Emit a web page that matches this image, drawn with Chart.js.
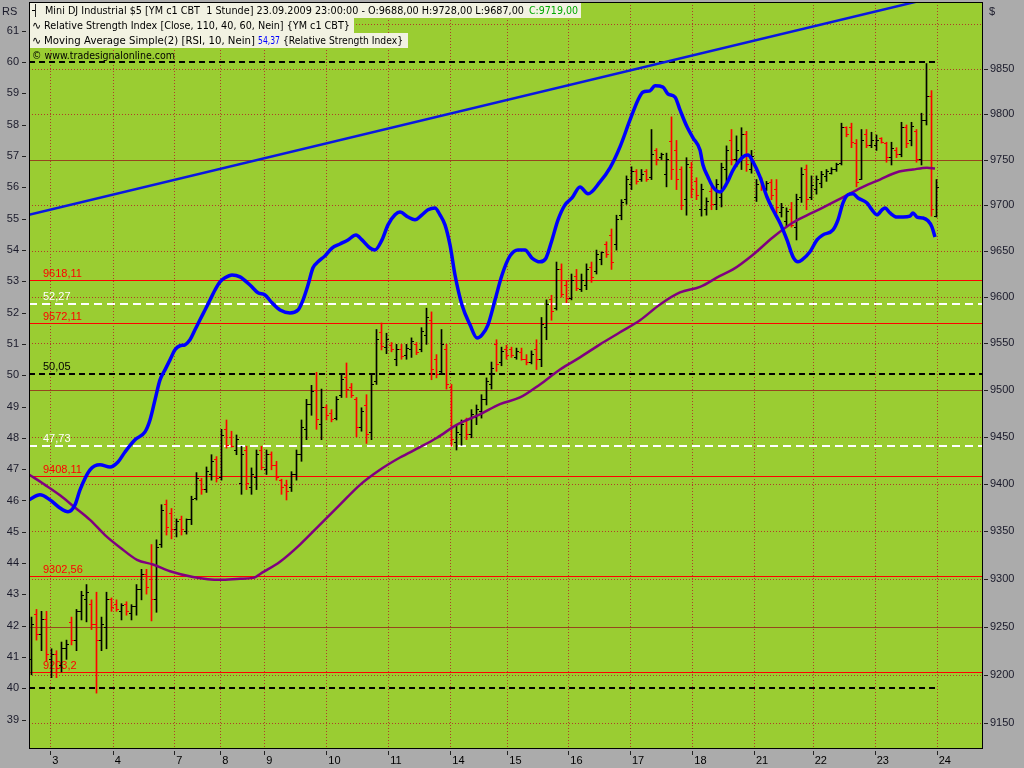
<!DOCTYPE html>
<html>
<head>
<meta charset="utf-8">
<title>Mini DJ Industrial $5 - RSI</title>
<script src="https://cdn.jsdelivr.net/npm/chart.js@4.4.1/dist/chart.umd.min.js"></script>
<style>
  html, body { margin: 0; padding: 0; background: #ababab; }
  canvas { display: block; }
</style>
</head>
<body>
<canvas id="chart" width="1024" height="768"></canvas>
<script>
// session starts (in bar units) and their day labels
const dayStarts = [3.76, 16.24, 28.56, 37.76, 46.56, 58.96, 71.36, 83.76, 95.16, 107.36, 119.7, 132.16, 144.5, 156.24, 168.64, 181.04];
const dayLabels = ['3', '4', '7', '8', '9', '10', '11', '14', '15', '16', '17', '18', '21', '22', '23', '24'];

// hourly OHLC, YM c1 CBT
const opens = [
  9216, 9263, 9242, 9257, 9216, 9221, 9210, 9227, 9254, 9236, 9266, 9278, 9273, 9252, 9236, 9249, 9278, 9273, 9266, 9273,
  9264, 9271, 9289, 9305, 9299, 9278, 9336, 9378, 9369, 9352, 9362, 9350, 9362, 9385, 9404, 9394, 9410, 9426, 9407, 9458,
  9449, 9436, 9400, 9435, 9396, 9407, 9436, 9415, 9431, 9420, 9404, 9398, 9396, 9410, 9431, 9458, 9484, 9500, 9463, 9481,
  9475, 9470, 9494, 9513, 9503, 9490, 9460, 9483, 9455, 9509, 9562, 9546, 9548, 9533, 9543, 9537, 9543, 9549, 9543, 9559,
  9575, 9533, 9520, 9543, 9503, 9444, 9452, 9466, 9452, 9471, 9477, 9490, 9506, 9549, 9530, 9543, 9543, 9535, 9540, 9533,
  9529, 9543, 9533, 9567, 9597, 9588, 9630, 9613, 9599, 9622, 9608, 9613, 9632, 9628, 9641, 9657, 9667, 9657, 9689, 9706,
  9723, 9737, 9728, 9737, 9730, 9760, 9752, 9734, 9770, 9760, 9739, 9706, 9741, 9726, 9695, 9695, 9715, 9701, 9708, 9739,
  9771, 9750, 9750, 9777, 9739, 9708, 9728, 9718, 9725, 9717, 9692, 9682, 9695, 9676, 9708, 9739, 9708, 9717, 9724, 9731,
  9735, 9739, 9746, 9785, 9785, 9768, 9728, 9777, 9765, 9765, 9773, 9768, 9752, 9760, 9755, 9785, 9771, 9781, 9750, 9793,
  9820, 9688
];
const highs = [
  9260, 9268, 9266, 9266, 9227, 9225, 9234, 9236, 9260, 9268, 9287, 9294, 9278, 9286, 9260, 9286, 9280, 9278, 9274, 9276,
  9273, 9294, 9310, 9310, 9336, 9341, 9378, 9383, 9374, 9363, 9366, 9363, 9387, 9412, 9406, 9418, 9431, 9429, 9458, 9468,
  9456, 9452, 9440, 9440, 9417, 9436, 9440, 9436, 9434, 9424, 9405, 9404, 9413, 9436, 9468, 9490, 9505, 9519, 9501, 9484,
  9479, 9493, 9517, 9529, 9507, 9492, 9481, 9495, 9517, 9565, 9572, 9561, 9551, 9549, 9549, 9549, 9556, 9551, 9567, 9588,
  9584, 9538, 9565, 9549, 9506, 9462, 9468, 9470, 9479, 9484, 9495, 9513, 9530, 9554, 9546, 9548, 9546, 9545, 9545, 9538,
  9542, 9554, 9578, 9597, 9602, 9638, 9636, 9618, 9625, 9630, 9625, 9636, 9638, 9651, 9649, 9660, 9674, 9689, 9706, 9732,
  9742, 9739, 9739, 9739, 9783, 9762, 9757, 9757, 9797, 9771, 9742, 9752, 9747, 9730, 9723, 9708, 9720, 9728, 9746, 9765,
  9783, 9776, 9785, 9781, 9760, 9728, 9730, 9726, 9728, 9728, 9702, 9697, 9703, 9712, 9741, 9744, 9732, 9732, 9737, 9739,
  9741, 9746, 9790, 9786, 9790, 9772, 9783, 9783, 9780, 9777, 9774, 9769, 9769, 9763, 9791, 9788, 9791, 9783, 9801, 9856,
  9826, 9728
];
const lows = [
  9200, 9236, 9225, 9214, 9197, 9197, 9203, 9216, 9231, 9225, 9257, 9255, 9247, 9181, 9225, 9227, 9266, 9266, 9257, 9262,
  9257, 9262, 9278, 9284, 9256, 9265, 9333, 9346, 9342, 9344, 9346, 9347, 9357, 9383, 9389, 9391, 9404, 9402, 9404, 9438,
  9439, 9431, 9389, 9394, 9389, 9394, 9415, 9410, 9415, 9404, 9389, 9383, 9392, 9404, 9424, 9447, 9473, 9458, 9447, 9468,
  9466, 9468, 9492, 9492, 9492, 9450, 9456, 9443, 9447, 9506, 9543, 9539, 9541, 9526, 9533, 9533, 9535, 9538, 9541, 9549,
  9511, 9513, 9517, 9501, 9440, 9436, 9441, 9447, 9449, 9463, 9470, 9484, 9501, 9520, 9526, 9533, 9535, 9533, 9532, 9527,
  9528, 9522, 9525, 9554, 9575, 9586, 9600, 9594, 9597, 9607, 9606, 9608, 9616, 9625, 9635, 9643, 9630, 9651, 9684, 9701,
  9717, 9723, 9726, 9726, 9728, 9744, 9750, 9720, 9728, 9717, 9695, 9689, 9708, 9706, 9688, 9689, 9695, 9695, 9698, 9726,
  9744, 9742, 9739, 9737, 9735, 9704, 9716, 9716, 9706, 9691, 9687, 9677, 9676, 9662, 9703, 9695, 9706, 9712, 9719, 9726,
  9734, 9737, 9744, 9775, 9763, 9720, 9728, 9763, 9763, 9760, 9768, 9747, 9744, 9752, 9753, 9763, 9765, 9747, 9744, 9788,
  9688, 9687
];
const closes = [
  9252, 9242, 9257, 9221, 9221, 9207, 9227, 9231, 9236, 9266, 9283, 9286, 9252, 9236, 9252, 9278, 9270, 9268, 9272, 9266,
  9271, 9289, 9305, 9291, 9278, 9333, 9372, 9354, 9352, 9360, 9352, 9362, 9383, 9406, 9394, 9413, 9424, 9406, 9451, 9441,
  9440, 9447, 9431, 9400, 9410, 9431, 9417, 9431, 9420, 9407, 9396, 9392, 9410, 9431, 9460, 9484, 9498, 9468, 9481, 9473,
  9468, 9490, 9511, 9501, 9494, 9460, 9477, 9452, 9506, 9554, 9547, 9554, 9543, 9543, 9536, 9545, 9552, 9540, 9563, 9578,
  9522, 9517, 9549, 9506, 9447, 9455, 9463, 9452, 9474, 9479, 9490, 9509, 9523, 9527, 9541, 9537, 9537, 9541, 9533, 9529,
  9538, 9533, 9570, 9592, 9584, 9630, 9603, 9599, 9618, 9609, 9618, 9630, 9621, 9646, 9648, 9646, 9638, 9684, 9703, 9728,
  9737, 9726, 9734, 9728, 9755, 9750, 9755, 9750, 9739, 9728, 9700, 9744, 9717, 9711, 9717, 9704, 9701, 9723, 9741, 9760,
  9750, 9760, 9777, 9744, 9753, 9723, 9720, 9724, 9711, 9697, 9697, 9693, 9678, 9706, 9734, 9706, 9722, 9728, 9734, 9737,
  9739, 9744, 9785, 9777, 9769, 9725, 9771, 9765, 9771, 9771, 9769, 9752, 9762, 9755, 9785, 9768, 9786, 9750, 9793, 9820,
  9695, 9719
];

// Relative Strength Index [Close, 110, 40, 60]
const rsiX = [
  -0.5, 1.7, 3.7, 5.7, 7.3, 8.7, 9.7, 11.7, 13.7, 15.7, 17.3, 18.7, 20.7, 22.7, 23.7, 24.7, 25.7, 26.7, 27.7, 28.7,
  29.7, 30.7, 31.7, 32.7, 33.7, 34.7, 35.7, 36.7, 37.7, 38.7, 40.1, 41.7, 43.7, 45.3, 46.7, 48.1, 49.7, 51.7, 53.3, 54.3,
  55.3, 56.3, 57.3, 58.7, 60.1, 61.7, 63.3, 64.9, 66.1, 67.7, 68.7, 70.1, 71.3, 72.7, 73.7, 75.3, 76.7, 78.1, 79.3, 80.7,
  81.7, 82.7, 83.7, 84.7, 86.1, 87.7, 89.1, 90.1, 91.3, 92.7, 94.1, 95.7, 97.3, 98.7, 100.1, 101.7, 102.9, 104.1, 105.3, 106.7,
  108.1, 109.7, 111.3, 113.7, 115.7, 117.7, 119.7, 121.3, 122.3, 123.7, 124.7, 126.3, 127.3, 128.7, 129.7, 131.1, 132.3, 133.7, 134.3, 135.3,
  136.3, 137.7, 139.1, 140.3, 142.3, 143.3, 144.3, 145.7, 147.1, 148.3, 149.7, 151.1, 152.3, 153.3, 154.1, 155.7, 157.1, 158.3, 160.3, 161.3,
  162.3, 163.3, 164.3, 165.3, 167.1, 168.1, 169.1, 170.1, 170.7, 171.7, 173.1, 174.3, 175.7, 176.3, 177.1, 178.3, 179.3, 180.1, 180.7
];
const rsiY = [
  46.02, 46.18, 46.02, 45.76, 45.64, 45.86, 46.34, 46.98, 47.14, 47.07, 47.23, 47.55, 47.94, 48.19, 48.57, 49.21, 49.85, 50.17, 50.49, 50.81,
  50.94, 50.97, 51.13, 51.45, 51.77, 52.08, 52.40, 52.72, 52.98, 53.11, 53.20, 53.14, 52.88, 52.63, 52.56, 52.31, 52.08, 51.99, 52.08, 52.40,
  52.88, 53.43, 53.62, 53.81, 54.06, 54.19, 54.32, 54.48, 54.32, 54.06, 54.00, 54.32, 54.80, 55.12, 55.21, 55.05, 54.96, 55.12, 55.28, 55.34,
  55.12, 54.80, 54.16, 53.20, 52.24, 51.61, 51.19, 51.29, 51.61, 52.40, 53.20, 53.81, 54.00, 54.00, 53.74, 53.62, 53.74, 54.32, 54.96, 55.44,
  55.66, 56.01, 55.79, 56.17, 56.62, 57.29, 58.15, 58.79, 59.04, 59.08, 59.24, 59.20, 58.98, 58.88, 58.47, 57.93, 57.58, 57.19, 56.71, 56.33,
  56.01, 55.85, 56.14, 56.55, 56.97, 57.03, 56.81, 56.33, 55.69, 55.28, 54.86, 54.32, 53.78, 53.62, 53.68, 53.94, 54.32, 54.48, 54.64, 54.96,
  55.50, 55.76, 55.79, 55.66, 55.50, 55.28, 55.12, 55.28, 55.34, 55.18, 55.05, 55.05, 55.08, 55.18, 55.05, 55.02, 54.93, 54.73, 54.41
];

// Moving Average Simple (purple)
const maX = [
  -0.5, 2.7, 5.7, 8.7, 11.7, 14.7, 17.7, 21.1, 24.3, 27.7, 32.3, 37.7, 41.7, 44.3, 46.3, 49.7, 53.7, 57.7, 61.7, 65.7,
  69.7, 73.7, 77.7, 81.1, 85.1, 89.7, 93.7, 97.7, 101.7, 105.7, 109.7, 113.7, 117.7, 121.7, 125.7, 129.7, 133.7, 137.7, 140.3, 144.3,
  148.3, 152.3, 156.3, 160.3, 163.1, 166.3, 169.7, 173.1, 176.3, 179.1, 180.7
];
const maY = [
  9410, 9399, 9388, 9375, 9362, 9346, 9333, 9320, 9315, 9308, 9302, 9299, 9300, 9301, 9307, 9318, 9336, 9357, 9378, 9399,
  9415, 9428, 9439, 9449, 9463, 9474, 9485, 9492, 9506, 9522, 9535, 9549, 9562, 9575, 9592, 9605, 9611, 9623, 9630, 9646,
  9665, 9681, 9692, 9703, 9711, 9720, 9728, 9736, 9739, 9741, 9740
];

// RSI trend line
const trendX = [-0.5, 190.1];
const trendY = [55.12, 62.43];

// axes
const rsiTicks = [39, 40, 41, 42, 43, 44, 45, 46, 47, 48, 49, 50, 51, 52, 53, 54, 55, 56, 57, 58, 59, 60, 61];
const priceTicks = [9150, 9200, 9250, 9300, 9350, 9400, 9450, 9500, 9550, 9600, 9650, 9700, 9750, 9800, 9850];
const priceGrid = [9150, 9200, 9250, 9300, 9350, 9400, 9450, 9500, 9550, 9600, 9650, 9700, 9750, 9800, 9850, 9900];
const majorPrices = [9250, 9500, 9750];

// horizontal levels
const priceLevels = [9618.11, 9572.11, 9408.11, 9302.56, 9203.2];
const priceLevelLabels = ['9618,11', '9572,11', '9408,11', '9302,56', '9203,2'];
const rsiLevels = [60, 52.27, 50.05, 47.73, 40];
const rsiLevelLabels = ['', '52,27', '50,05', '47,73', ''];

const UP = '#000000';
const DOWN = '#ff0000';
const rsiLevelColors = ['#000000', '#ffffff', '#000000', '#ffffff', '#000000'];
const AXIS_FONT = { family: 'Liberation Sans', size: 11 };

function hline(ctx, x1, x2, y) {
  ctx.beginPath();
  ctx.moveTo(x1, y);
  ctx.lineTo(x2, y);
  ctx.stroke();
}
function vline(ctx, x, y1, y2) {
  ctx.beginPath();
  ctx.moveTo(x, y1);
  ctx.lineTo(x, y2);
  ctx.stroke();
}
const crisp = v => Math.round(v) + 0.5;

const decor = {
  id: 'decor',
  beforeDraw(chart) {
    const { ctx, chartArea: a } = chart;
    ctx.save();
    ctx.fillStyle = '#ababab';
    ctx.fillRect(0, 0, chart.width, chart.height);
    ctx.fillStyle = '#9acd32';
    ctx.fillRect(a.left, a.top, a.right - a.left, a.bottom - a.top);
    ctx.restore();
  },
  beforeDatasetsDraw(chart) {
    const { ctx, chartArea: a, scales } = chart;
    const { x, rsi, price } = scales;
    ctx.save();
    ctx.beginPath();
    ctx.rect(a.left, a.top, a.right - a.left, a.bottom - a.top);
    ctx.clip();

    // dotted grid
    ctx.lineWidth = 1;
    ctx.strokeStyle = '#b03c28';
    ctx.setLineDash([1, 2]);
    priceGrid.forEach(v => {
      if (majorPrices.includes(v)) return;
      hline(ctx, a.left, a.right, crisp(price.getPixelForValue(v)));
    });
    dayStarts.forEach(v => vline(ctx, crisp(x.getPixelForValue(v)), a.top, a.bottom));
    ctx.setLineDash([]);

    // solid price lines
    ctx.strokeStyle = '#96461e';
    majorPrices.forEach(v => hline(ctx, a.left, a.right, crisp(price.getPixelForValue(v))));

    // price levels
    ctx.font = '11px "Liberation Sans"';
    ctx.textBaseline = 'alphabetic';
    ctx.strokeStyle = '#ff0000';
    ctx.fillStyle = '#ff0000';
    priceLevels.forEach((v, k) => {
      const y = crisp(price.getPixelForValue(v));
      hline(ctx, a.left, a.right, y);
      ctx.fillText(priceLevelLabels[k], a.left + 14, y - 4);
    });

    // rsi levels
    ctx.lineWidth = 2;
    const lastBar = x.getPixelForValue(opens.length - 1);
    rsiLevels.forEach((v, k) => {
      const y = Math.round(rsi.getPixelForValue(v));
      const col = rsiLevelColors[k];
      ctx.strokeStyle = col;
      ctx.setLineDash(col === '#ffffff' ? [8, 5] : [6, 4]);
      hline(ctx, a.left, rsiLevelLabels[k] ? a.right : lastBar, y);
      if (rsiLevelLabels[k]) {
        ctx.fillStyle = col;
        ctx.fillText(rsiLevelLabels[k], a.left + 14, y - 4);
      }
    });
    ctx.setLineDash([]);

    // open / close ticks of the bars
    opens.forEach((o, i) => {
      const c = closes[i];
      const px = Math.round(x.getPixelForValue(i) - 0.5);
      ctx.fillStyle = c >= o ? UP : DOWN;
      ctx.fillRect(px - 2, Math.round(price.getPixelForValue(o) - 0.5), 2, 1);
      ctx.fillRect(px + 1, Math.round(price.getPixelForValue(c) - 0.5), 2, 1);
    });
    ctx.restore();
  },
  afterDraw(chart) {
    const { ctx, chartArea: a, scales } = chart;
    const { x, rsi, price } = scales;
    ctx.save();

    // frame and tick marks
    ctx.strokeStyle = '#000';
    ctx.lineWidth = 1;
    ctx.strokeRect(a.left + 0.5, a.top + 0.5, a.right - a.left, a.bottom - a.top);
    ctx.strokeStyle = '#222';
    rsiTicks.forEach(v => hline(ctx, a.left - 7, a.left - 3, crisp(rsi.getPixelForValue(v))));
    priceTicks.forEach(v => hline(ctx, a.right + 2, a.right + 6, crisp(price.getPixelForValue(v))));
    dayStarts.forEach(v => vline(ctx, crisp(x.getPixelForValue(v)), a.bottom + 3, a.bottom + 7));

    // axis titles
    ctx.fillStyle = '#1a1a2a';
    ctx.font = '11px "Liberation Sans"';
    ctx.fillText('RS', 2, 15);
    ctx.fillText('$', a.right + 7, 15);

    // legend rows
    ctx.font = '11px "DejaVu Sans"';
    ctx.fillStyle = '#f2f2e2';
    ctx.fillRect(a.left + 1, a.top + 1, 551, 15);
    ctx.fillRect(a.left + 1, a.top + 16, 324, 15);
    ctx.fillRect(a.left + 1, a.top + 31, 378, 15);

    ctx.fillStyle = '#000';
    ctx.fillText('\u2524', 32, 14);
    ctx.fillText('Mini DJ Industrial $5 [YM c1 CBT  1 Stunde] 23.09.2009 23:00:00 - O:9688,00 H:9728,00 L:9687,00', 45, 14, 479);
    ctx.fillStyle = '#00a800';
    ctx.fillText('C:9719,00', 529, 14, 49);

    ctx.fillStyle = '#000';
    ctx.fillText('\u223f', 32, 29);
    ctx.fillText('Relative Strength Index [Close, 110, 40, 60, Nein] {YM c1 CBT}', 44, 29, 306);
    ctx.fillText('\u223f', 32, 44);
    ctx.fillText('Moving Average Simple(2) [RSI, 10, Nein]', 44, 44, 211);
    ctx.fillStyle = '#0000ff';
    ctx.fillText('54,37', 258, 44, 22);
    ctx.fillStyle = '#000';
    ctx.fillText('{Relative Strength Index}', 283, 44, 120);
    ctx.fillText('\u00a9 www.tradesignalonline.com', 32, 59, 143);
    ctx.restore();
  }
};

const noPad = s => { s.paddingTop = 0; s.paddingBottom = 0; s.paddingLeft = 0; s.paddingRight = 0; };

new Chart(document.getElementById('chart'), {
  type: 'line',
  data: {
    datasets: [
      {
        label: 'Relative Strength Index',
        yAxisID: 'rsi',
        data: rsiX.map((v, i) => ({ x: v, y: rsiY[i] })),
        borderColor: '#0000ff',
        borderWidth: 3.5,
        pointRadius: 0,
        cubicInterpolationMode: 'monotone',
        borderJoinStyle: 'round'
      },
      {
        label: 'Moving Average Simple(2)',
        yAxisID: 'price',
        data: maX.map((v, i) => ({ x: v, y: maY[i] })),
        borderColor: '#800080',
        borderWidth: 2.5,
        pointRadius: 0,
        cubicInterpolationMode: 'monotone'
      },
      {
        label: 'Trend',
        yAxisID: 'rsi',
        data: trendX.map((v, i) => ({ x: v, y: trendY[i] })),
        borderColor: '#0a18e0',
        borderWidth: 2.5,
        pointRadius: 0
      },
      {
        type: 'bar',
        label: 'Mini DJ Industrial $5',
        yAxisID: 'price',
        data: highs.map((h, i) => ({ x: i, y: [lows[i], h] })),
        backgroundColor: closes.map((c, i) => (c >= opens[i] ? UP : DOWN)),
        barThickness: 1,
        borderWidth: 0
      }
    ]
  },
  options: {
    responsive: false,
    devicePixelRatio: 1,
    animation: false,
    events: [],
    layout: { padding: { top: 2, left: 0, right: 0, bottom: 0 } },
    plugins: { legend: { display: false }, tooltip: { enabled: false } },
    scales: {
      x: {
        type: 'linear',
        min: -0.5,
        max: 190.1,
        offset: false,
        bounds: 'data',
        grid: { display: false, drawTicks: false },
        border: { display: false },
        ticks: {
          autoSkip: false,
          maxRotation: 0,
          align: 'start',
          labelOffset: 2,
          padding: 6,
          color: '#000',
          font: AXIS_FONT,
          callback: (v, i) => dayLabels[i]
        },
        afterBuildTicks: s => { s.ticks = dayStarts.map(v => ({ value: v })); },
        afterFit: s => { s.height = 20; noPad(s); }
      },
      rsi: {
        type: 'linear',
        position: 'left',
        min: 38.097,
        max: 61.916,
        bounds: 'data',
        grid: { display: false, drawTicks: false },
        border: { display: false },
        ticks: { autoSkip: false, padding: 10, color: '#1a1a2a', font: AXIS_FONT, callback: v => String(v) },
        afterBuildTicks: s => { s.ticks = rsiTicks.map(v => ({ value: v })); },
        afterFit: s => { s.width = 29; noPad(s); }
      },
      price: {
        type: 'logarithmic',
        position: 'right',
        min: 9124.4,
        max: 9924.6,
        bounds: 'data',
        grid: { display: false, drawTicks: false },
        border: { display: false },
        ticks: { autoSkip: false, padding: 8, color: '#1a1a2a', font: AXIS_FONT, callback: v => String(v) },
        afterBuildTicks: s => { s.ticks = priceTicks.map(v => ({ value: v })); },
        afterFit: s => { s.width = 42; noPad(s); }
      }
    }
  },
  plugins: [decor]
});
</script>
</body>
</html>
